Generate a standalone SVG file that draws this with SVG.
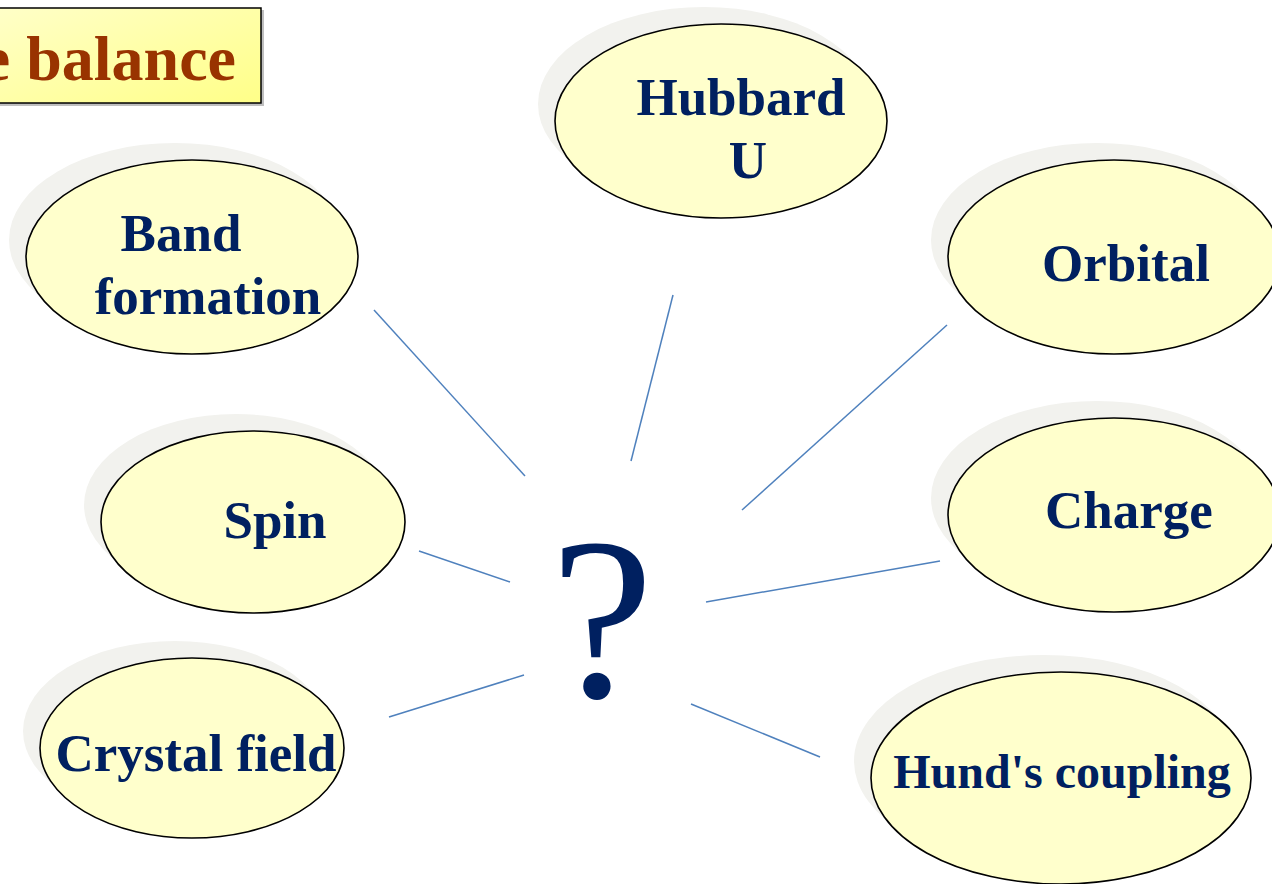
<svg xmlns="http://www.w3.org/2000/svg" width="1272" height="884" viewBox="0 0 1272 884">
<defs>
<linearGradient id="tg" x1="0" y1="0" x2="1" y2="1">
<stop offset="0" stop-color="#FFFFC8"/>
<stop offset="1" stop-color="#FFFF88"/>
</linearGradient>
<style>
.sh{fill:#F2F2EE;stroke:none}
.el{fill:#FFFFCC;stroke:#000;stroke-width:1.6}
.lb{font-family:"Liberation Serif","Times New Roman",serif;font-weight:bold;font-size:53px;fill:#002060;text-anchor:middle}
.cn line{stroke:#4F81BD;stroke-width:1.5}
</style>
</defs>
<rect width="1272" height="884" fill="#fff"/>
<g id="title">
<rect x="-2" y="10" width="266" height="96" fill="#808080" opacity="0.5"/>
<rect x="-4" y="8" width="265" height="95" fill="url(#tg)" stroke="#000" stroke-width="1.5"/>
<text x="236" y="80" font-family="Liberation Serif,'Times New Roman',serif" font-weight="bold" font-size="64" fill="#993300" text-anchor="end">e balance</text>
</g>
<g id="connectors" class="cn">
<line x1="374" y1="310" x2="525" y2="476"/>
<line x1="673" y1="295" x2="631" y2="461"/>
<line x1="947" y1="325" x2="742" y2="510"/>
<line x1="419" y1="551" x2="510" y2="582"/>
<line x1="940" y1="561" x2="706" y2="602"/>
<line x1="389" y1="717" x2="524" y2="675"/>
<line x1="691" y1="704" x2="820" y2="757"/>
</g>
<g id="q">
<text x="602" y="697" font-family="Liberation Serif,'Times New Roman',serif" font-size="232" fill="#002060" text-anchor="middle">?</text>
</g>
<g id="band">
<ellipse class="sh" cx="175" cy="240" rx="166" ry="97"/>
<ellipse class="el" cx="192" cy="257" rx="166" ry="97"/>
<text class="lb" x="181" y="251">Band</text>
<text class="lb" x="208" y="314">formation</text>
</g>
<g id="hubbard">
<ellipse class="sh" cx="704" cy="104" rx="166" ry="97"/>
<ellipse class="el" cx="721" cy="121" rx="166" ry="97"/>
<text class="lb" x="741" y="115">Hubbard</text>
<text class="lb" x="748" y="178">U</text>
</g>
<g id="orbital">
<ellipse class="sh" cx="1097" cy="240" rx="166" ry="97"/>
<ellipse class="el" cx="1114" cy="257" rx="166" ry="97"/>
<text class="lb" x="1126" y="281">Orbital</text>
</g>
<g id="spin">
<ellipse class="sh" cx="236" cy="505" rx="152" ry="91"/>
<ellipse class="el" cx="253" cy="522" rx="152" ry="91"/>
<text class="lb" x="275" y="538">Spin</text>
</g>
<g id="charge">
<ellipse class="sh" cx="1097" cy="498" rx="166" ry="97"/>
<ellipse class="el" cx="1114" cy="515" rx="166" ry="97"/>
<text class="lb" x="1129" y="528">Charge</text>
</g>
<g id="crystal">
<ellipse class="sh" cx="175" cy="731" rx="152" ry="90"/>
<ellipse class="el" cx="192" cy="748" rx="152" ry="90"/>
<text class="lb" x="196" y="771">Crystal field</text>
</g>
<g id="hund">
<ellipse class="sh" cx="1044" cy="761" rx="190" ry="106"/>
<ellipse class="el" cx="1061" cy="778" rx="190" ry="106"/>
<text class="lb" x="1062" y="788" style="font-size:48px">Hund's coupling</text>
</g>
</svg>
